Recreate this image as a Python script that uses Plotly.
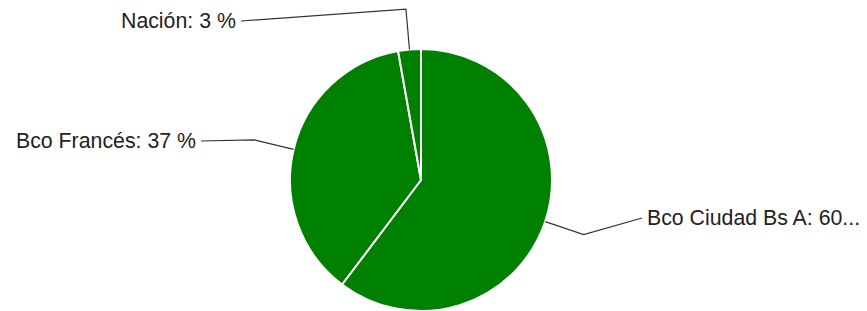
import plotly.graph_objects as go
import math

# ---- data ----
labels = ["Bco Ciudad Bs A", "Bco Francés", "Nación"]
values = [60.3, 36.9, 2.8]

# ---- layout constants (pixels) ----
W, H = 867, 311
green = "#008000"
line_col = "#333333"
font_family = "Arial, 'Liberation Sans', sans-serif"
font_size = 21.3

# pie domain in pixels
dom_x = (290, 552)
dom_y_top = 49
cx = (dom_x[0] + dom_x[1]) / 2
r = (dom_x[1] - dom_x[0]) / 2
cy = dom_y_top + r

# label anchor points (pixel), side
label_pos = [
    (645, 218, "left"),
    (198, 141, "right"),
    (238, 21, "right"),
]


def px(x, y):
    return x / W, 1 - y / H


def fmt(name, v, maxlen=20):
    t = f"{name}: {round(v)} %"
    if len(t) > maxlen:
        t = t[:maxlen - 1].rstrip() + "..."
        t = t.replace(" ...", "...")
    return t


fig = go.Figure(go.Pie(
    labels=labels,
    values=values,
    sort=False,
    direction="clockwise",
    rotation=0,
    textinfo="none",
    marker=dict(colors=[green] * len(values), line=dict(color="white", width=2)),
    domain=dict(x=[dom_x[0] / W, dom_x[1] / W], y=[0, 1 - dom_y_top / H]),
    showlegend=False,
))

total = sum(values)
cum = 0
shapes = []
annotations = []
for (name, v), (lx, ly, side) in zip(zip(labels, values), label_pos):
    mid = (cum + v / 2) / total * 2 * math.pi
    cum += v
    ex, ey = cx + r * math.sin(mid), cy - r * math.cos(mid)
    bx, by = cx + 1.31 * r * math.sin(mid), cy - 1.31 * r * math.cos(mid)
    tx = lx + (-3 if side == "left" else 3)
    pts = [px(ex, ey), px(bx, by), px(tx, ly)]
    path = "M " + " L ".join(f"{a},{b}" for a, b in pts)
    shapes.append(dict(type="path", path=path, xref="paper", yref="paper",
                       line=dict(color=line_col, width=1.2)))
    ax, ay = px(lx, ly)
    annotations.append(dict(
        x=ax, y=ay, xref="paper", yref="paper", text=fmt(name, v),
        showarrow=False, xanchor=side, yanchor="middle",
        font=dict(family=font_family, size=font_size, color="#222222"),
    ))

fig.update_layout(
    width=W, height=H,
    margin=dict(l=0, r=0, t=0, b=0),
    paper_bgcolor="white", plot_bgcolor="white",
    shapes=shapes, annotations=annotations,
)

fig.write_html("out.html", config={"displayModeBar": False},
               post_script="document.body.style.margin='0';")
